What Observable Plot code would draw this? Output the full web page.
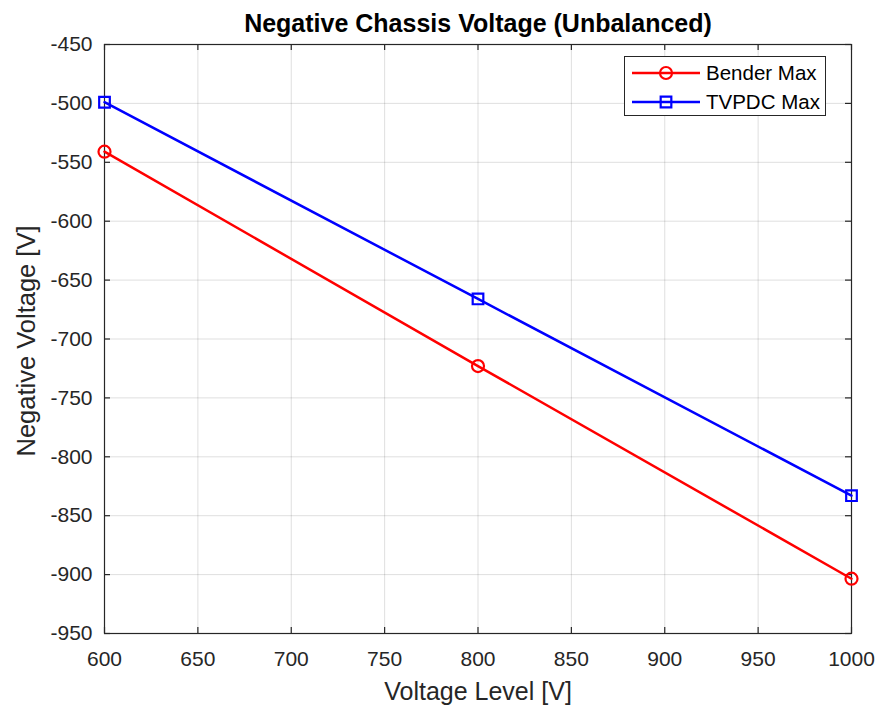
<!DOCTYPE html>
<html>
<head>
<meta charset="utf-8">
<script src="https://cdn.jsdelivr.net/npm/d3@7"></script>
<script src="https://cdn.jsdelivr.net/npm/@observablehq/plot@0.6"></script>
<style>
  html, body { margin: 0; padding: 0; background: #fff; }
  #wrap { position: relative; width: 879px; height: 708px; font-family: "Liberation Sans", Arial, Helvetica, sans-serif; }
  #legend { position: absolute; left: 624px; top: 56px; width: 200px; height: 58px; border: 1px solid #262626; background: #fff; }
  #legend svg { position: absolute; left: 0; top: 0; }
</style>
</head>
<body>
<div id="wrap"></div>
<script>
const voltageLevels = [600, 800, 1000];
const benderMax = [-541, -723, -903.5];
const tvpdcMax = [-499, -666, -833];
const seriesNames = ["Bender Max", "TVPDC Max"];
const seriesColors = ["#ff0000", "#0000ff"];
const seriesSymbols = ["circle", "square"];
const xTicks = [600, 650, 700, 750, 800, 850, 900, 950, 1000];
const yTicks = [-450, -500, -550, -600, -650, -700, -750, -800, -850, -900, -950];
const titleText = "Negative Chassis Voltage (Unbalanced)";
const xLabel = "Voltage Level [V]";
const yLabel = "Negative Voltage [V]";

const rows = [];
[benderMax, tvpdcMax].forEach((vals, i) => {
  vals.forEach((v, j) => rows.push({series: seriesNames[i], x: voltageLevels[j], y: v}));
});

const W = 879, H = 708;
const mL = 104, mR = 28, mT = 44, mB = 75;
const fw = W - mL - mR, fh = H - mT - mB;
const ink = "#262626";
const font = '"Liberation Sans", Arial, Helvetica, sans-serif';

const chart = Plot.plot({
  width: W, height: H,
  marginLeft: mL, marginRight: mR, marginTop: mT, marginBottom: mB,
  style: {fontFamily: font, color: ink, background: "#fff", overflow: "visible"},
  x: {domain: [600, 1000]},
  y: {domain: [-950, -450]},
  color: {domain: seriesNames, range: seriesColors},
  symbol: {domain: seriesNames, range: seriesSymbols},
  marks: [
    Plot.gridX(xTicks, {stroke: ink, strokeOpacity: 0.15}),
    Plot.gridY(yTicks, {stroke: ink, strokeOpacity: 0.15}),
    Plot.tickY(yTicks, {y: d => d, stroke: ink, strokeWidth: 1.2, insetRight: fw - 6}),
    Plot.tickY(yTicks, {y: d => d, stroke: ink, strokeWidth: 1.2, insetLeft: fw - 6}),
    Plot.tickX(xTicks, {x: d => d, stroke: ink, strokeWidth: 1.2, insetTop: fh - 6}),
    Plot.tickX(xTicks, {x: d => d, stroke: ink, strokeWidth: 1.2, insetBottom: fh - 6}),
    Plot.frame({stroke: ink, strokeWidth: 1.2}),
    Plot.axisY(yTicks, {tickSize: 0, tickPadding: 12, fontSize: 21, tickFormat: d => String(d), label: null, fill: ink}),
    Plot.axisX(xTicks, {tickSize: 0, tickPadding: 18, fontSize: 21, tickFormat: d => String(d), label: null, fill: ink}),
    Plot.line(rows, {x: "x", y: "y", z: "series", stroke: "series", strokeWidth: 2.5}),
    Plot.dot(rows, {x: "x", y: "y", stroke: "series", symbol: "series", r: 6, strokeWidth: 2.2, fill: "none"}),
    Plot.text([titleText], {text: d => d, frameAnchor: "top", dy: -21, lineAnchor: "middle", fontSize: 25, fontWeight: "bold", fill: "#000"}),
    Plot.text([xLabel], {text: d => d, frameAnchor: "bottom", dy: 58, lineAnchor: "middle", fontSize: 25, fill: ink}),
    Plot.text([yLabel], {text: d => d, frameAnchor: "left", textAnchor: "middle", dx: -78, dy: 2, rotate: -90, lineAnchor: "middle", fontSize: 25.5, fill: ink})
  ]
});

const wrap = document.getElementById("wrap");
wrap.appendChild(chart);

// Legend
const legend = document.createElement("div");
legend.id = "legend";
const ns = "http://www.w3.org/2000/svg";
const lsvg = document.createElementNS(ns, "svg");
lsvg.setAttribute("width", 200);
lsvg.setAttribute("height", 58);
seriesNames.forEach((name, i) => {
  const cy = 16 + i * 29;
  const line = document.createElementNS(ns, "line");
  line.setAttribute("x1", 7); line.setAttribute("x2", 75);
  line.setAttribute("y1", cy); line.setAttribute("y2", cy);
  line.setAttribute("stroke", seriesColors[i]); line.setAttribute("stroke-width", 2.5);
  lsvg.appendChild(line);
  const sym = seriesSymbols[i] === "circle" ? d3.symbolCircle : d3.symbolSquare;
  const p = document.createElementNS(ns, "path");
  p.setAttribute("d", d3.symbol(sym, 36 * Math.PI)());
  p.setAttribute("transform", `translate(41,${cy})`);
  p.setAttribute("fill", "none"); p.setAttribute("stroke", seriesColors[i]); p.setAttribute("stroke-width", 2.2);
  lsvg.appendChild(p);
  const t = document.createElementNS(ns, "text");
  t.setAttribute("x", 81); t.setAttribute("y", cy);
  t.setAttribute("dy", "0.35em");
  t.setAttribute("font-size", 20.5);
  t.setAttribute("font-family", font);
  t.setAttribute("fill", "#000");
  t.textContent = name;
  lsvg.appendChild(t);
});
legend.appendChild(lsvg);
wrap.appendChild(legend);
</script>
</body>
</html>
